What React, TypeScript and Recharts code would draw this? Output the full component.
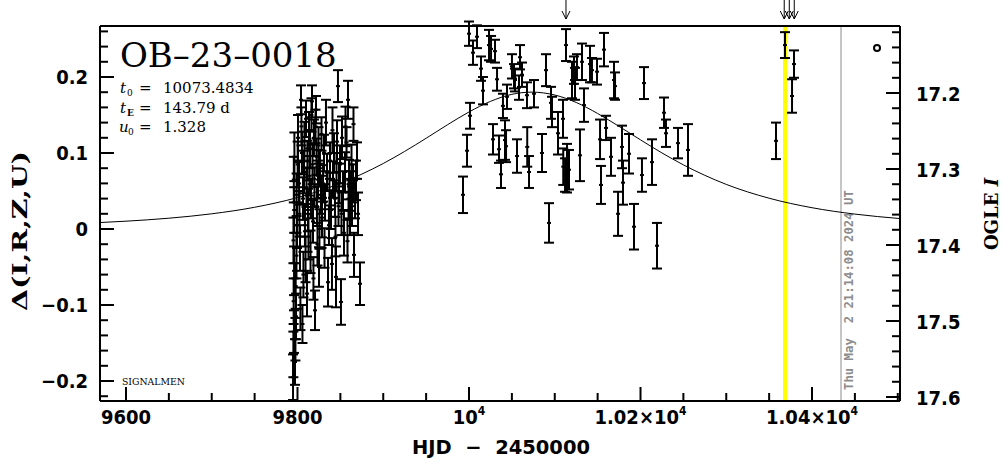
import React from 'react';
import {
  ComposedChart,
  XAxis,
  YAxis,
  Line,
  Scatter,
  ErrorBar,
  ReferenceLine,
  ReferenceDot,
} from 'recharts';

// ---------- observations (HJD-2450000, delta mag, error) ----------
const obsT = [
  9794.8, 9795.2, 9795.9, 9795.5, 9796.0, 9795.3, 9796.2, 9795.7, 9796.4,
  9797.1, 9797.6, 9798.3, 9797.9, 9798.8, 9799.4, 9799.0, 9800.2, 9800.6,
  9801.8, 9802.3, 9802.9, 9803.4, 9804.1, 9804.6, 9805.2, 9805.8, 9806.4, 9806.9,
  9807.6, 9808.1, 9808.7, 9809.4, 9809.9, 9810.5, 9811.1, 9811.6, 9812.2, 9812.8, 9813.4,
  9814.0, 9814.6, 9815.2, 9815.7, 9816.3, 9816.9, 9817.5, 9818.1, 9818.6, 9819.2, 9819.8, 9820.4, 9821.0, 9821.6,
  9822.2, 9822.7, 9823.3, 9823.9, 9824.5, 9825.1, 9825.6, 9826.2, 9827.4, 9828.0,
  9828.6, 9829.8, 9830.9, 9831.5, 9832.1, 9833.2, 9834.4, 9835.6, 9836.7, 9837.3, 9837.9,
  9839.1, 9840.2, 9840.8, 9841.4, 9842.6, 9843.7, 9844.3, 9844.9, 9845.5, 9846.1, 9847.2, 9847.8,
  9848.4, 9849.6, 9850.7, 9851.3, 9851.9, 9853.1, 9854.2, 9855.4, 9856.0,
  9857.2, 9858.3, 9858.9, 9859.5, 9860.1, 9861.2, 9862.4, 9863.0,
  9863.6, 9864.8, 9865.3, 9865.9, 9867.1, 9868.2, 9869.4, 9870.6, 9872.9,
  9993.0, 9997.7, 10000.0, 10001.2, 10004.7, 10009.3, 10014.0, 10016.3, 10023.3, 10025.7,
  10028.0, 10030.3, 10032.7, 10035.0, 10037.3, 10039.6, 10042.0, 10043.2, 10044.3, 10050.1,
  10052.5, 10053.6, 10056.0, 10058.3, 10059.5, 10061.8, 10067.6, 10067.9, 10070.0, 10075.8,
  10085.1, 10089.8, 10093.3, 10095.6, 10096.8, 10103.8, 10109.6, 10109.9, 10112.0, 10113.1,
  10114.3, 10116.6, 10120.1, 10122.4, 10123.6, 10125.9, 10129.4, 10131.8, 10134.1, 10141.1,
  10143.4, 10149.3, 10152.8, 10153.9, 10157.4, 10159.8, 10165.6, 10169.1, 10170.3, 10173.8,
  10178.4, 10179.6, 10186.6, 10192.4, 10201.7, 10204.1, 10213.4, 10219.2, 10227.4, 10229.7,
  10243.7, 10255.4, 10358.0, 10368.5, 10376.7, 10379.0,
];
const obsD = [
  -0.195, -0.165, -0.135, -0.095, -0.055, -0.015, 0.025, 0.065, 0.095,
  -0.175, -0.145, -0.115, -0.075, -0.035, 0.005, 0.045, 0.085, 0.12,
  0.06, 0.02, -0.025, -0.105, 0.17, 0.135, 0.1, -0.125, 0.04, -0.06,
  0.075, 0.115, 0.005, -0.04, 0.145, 0.055, -0.085, 0.09, 0.025, -0.01, 0.13,
  0.07, 0.105, -0.03, 0.04, 0.15, 0.168, 0.085, 0.01, -0.065, 0.12, 0.055, -0.107, 0.135, 0.157,
  0.095, 0.03, -0.02, 0.065, 0.11, -0.05, 0.0, 0.08, 0.045, 0.125,
  0.015, 0.06, 0.1, -0.025, 0.035, 0.14, 0.075, -0.07, 0.005, 0.05, 0.09,
  0.025, -0.046, 0.13, 0.065, 0.1, 0.04, -0.01, -0.063, 0.075, 0.115, 0.188, 0.03,
  0.06, 0.085, -0.096, 0.02, 0.12, 0.05, -0.005, 0.075, 0.135,
  0.114, -0.016, 0.17, 0.04, 0.065, 0.02, 0.05, 0.085,
  0.03, 0.06, 0.138, -0.034, 0.04, 0.064, 0.09, 0.02, -0.072,
  0.045, 0.103, 0.257, 0.149, 0.232, 0.253, 0.211, 0.182, 0.242, 0.237,
  0.118, 0.234, 0.197, 0.105, 0.072, 0.162, 0.117, 0.109, 0.174, 0.214,
  0.201, 0.196, 0.096, 0.186, 0.226, 0.203, 0.176, 0.108, 0.075, 0.178,
  0.1, 0.209, 0.008, 0.166, 0.154, 0.126, 0.145, 0.082, 0.071, 0.242,
  0.08, 0.078, 0.196, 0.209, 0.191, 0.213, 0.097, 0.22, 0.163, 0.217,
  0.209, 0.207, 0.118, 0.058, 0.236, 0.133, 0.095, 0.196, 0.188, 0.02,
  0.108, 0.061, 0.099, 0.003, 0.071, 0.192, 0.088, -0.022, 0.153, 0.126,
  0.113, 0.104, 0.116, 0.242, 0.175, 0.217,
];
const obsE = [
  0.03, 0.03, 0.028, 0.03, 0.032, 0.03, 0.03, 0.03, 0.032,
  0.03, 0.028, 0.03, 0.03, 0.03, 0.03, 0.028, 0.03, 0.03,
  0.028, 0.03, 0.03, 0.028, 0.019, 0.025, 0.028, 0.025, 0.028, 0.03,
  0.028, 0.026, 0.028, 0.03, 0.024, 0.026, 0.03, 0.026, 0.028, 0.03, 0.024,
  0.026, 0.025, 0.028, 0.026, 0.022, 0.021, 0.026, 0.028, 0.028, 0.024, 0.026, 0.026, 0.022, 0.018,
  0.024, 0.026, 0.028, 0.025, 0.024, 0.026, 0.026, 0.024, 0.025, 0.022,
  0.026, 0.024, 0.024, 0.026, 0.024, 0.03, 0.024, 0.032, 0.026, 0.024, 0.024,
  0.025, 0.034, 0.03, 0.024, 0.026, 0.024, 0.026, 0.04, 0.025, 0.028, 0.021, 0.026,
  0.026, 0.025, 0.03, 0.028, 0.028, 0.026, 0.03, 0.026, 0.026,
  0.02, 0.028, 0.025, 0.026, 0.026, 0.028, 0.026, 0.026,
  0.026, 0.025, 0.022, 0.029, 0.026, 0.026, 0.024, 0.028, 0.028,
  0.024, 0.021, 0.016, 0.017, 0.016, 0.015, 0.016, 0.018, 0.02, 0.017,
  0.02, 0.015, 0.015, 0.018, 0.018, 0.016, 0.026, 0.021, 0.016, 0.016,
  0.016, 0.015, 0.022, 0.016, 0.016, 0.016, 0.017, 0.026, 0.021, 0.018,
  0.025, 0.021, 0.026, 0.021, 0.02, 0.028, 0.025, 0.024, 0.022, 0.021,
  0.032, 0.026, 0.024, 0.018, 0.021, 0.017, 0.034, 0.024, 0.022, 0.024,
  0.016, 0.017, 0.026, 0.025, 0.022, 0.016, 0.025, 0.024, 0.018, 0.029,
  0.028, 0.029, 0.026, 0.03, 0.022, 0.021, 0.03, 0.03, 0.02, 0.018,
  0.02, 0.034, 0.024, 0.017, 0.022, 0.018,
];

// ---------- model curve ----------
const modelT = [
  9566, 9600, 9650, 9700, 9750, 9800, 9850, 9900, 9925, 9950, 9975, 10000, 10025, 10050,
  10073.5, 10100, 10125, 10150, 10175, 10200, 10225, 10250, 10300, 10350, 10400, 10450, 10503,
];
const modelD = [
  0.0083, 0.0103, 0.0142, 0.02, 0.0286, 0.0414, 0.0601, 0.0862, 0.1021, 0.1194, 0.1372, 0.154,
  0.1679, 0.1772, 0.1801, 0.1763, 0.1665, 0.152, 0.135, 0.1173, 0.1001, 0.0844, 0.0587, 0.0405,
  0.028, 0.0196, 0.0137,
];

// ---------- markers ----------
const nowLineT = 10368.5; // yellow line
const dateLineT = 10433.8; // grey line
const arrowTimes = [10113.1, 10367.6, 10373.5, 10379.3];
const dateText = 'Thu May\u00a0\u00a02 21:14:08 2024 UT';

// ---------- axes ----------
const xDomain = [9569.7, 10502.6];
const dDomain = [-0.2263, 0.2671];
const mDomain = [17.1118, 17.6053];

const xTicks = [
  9600, 9650, 9700, 9750, 9800, 9850, 9900, 9950, 10000, 10050, 10100, 10150, 10200, 10250,
  10300, 10350, 10400, 10450, 10500,
];
const xMajorTicks = [9600, 9800, 10000, 10200, 10400];
const xLabelBase = ['9600', '9800', '10', '1.02\u00d710', '1.04\u00d710'];
const xLabelExp = ['', '', '4', '4', '4'];

const dTicks = [
  -0.22, -0.2, -0.18, -0.16, -0.14, -0.12, -0.1, -0.08, -0.06, -0.04, -0.02, 0, 0.02, 0.04, 0.06,
  0.08, 0.1, 0.12, 0.14, 0.16, 0.18, 0.2, 0.22, 0.24, 0.26,
];
const dMajorTicks = [-0.2, -0.1, 0, 0.1, 0.2];
const dLabels = ['\u22120.2', '\u22120.1', '0', '0.1', '0.2'];

const mTicks = [
  17.12, 17.14, 17.16, 17.18, 17.2, 17.22, 17.24, 17.26, 17.28, 17.3, 17.32, 17.34, 17.36, 17.38,
  17.4, 17.42, 17.44, 17.46, 17.48, 17.5, 17.52, 17.54, 17.56, 17.58, 17.6,
];
const mMajorTicks = [17.2, 17.3, 17.4, 17.5, 17.6];
const mLabels = ['17.2', '17.3', '17.4', '17.5', '17.6'];

const points = obsT.map((t, i) => ({ t, d: obsD[i], e: obsE[i] }));
const model = modelT.map((t, i) => ({ t, d: modelD[i] }));

const MAJOR = 14;
const MINOR = 8;

const labelFont: React.CSSProperties = {
  fontFamily: "'DejaVu Sans Condensed', 'DejaVu Sans', sans-serif",
  fontStretch: 'condensed',
  fontWeight: 700,
  fontSize: 20,
  fill: '#000',
};

const findIdx = (arr: number[], v: number) => arr.findIndex((m) => Math.abs(m - v) < 1e-6);

const BottomTick = (props: any) => {
  const { x, y, payload } = props;
  const idx = findIdx(xMajorTicks, payload.value);
  const major = idx >= 0;
  return (
    <g>
      <line x1={x} x2={x} y1={y} y2={y - (major ? MAJOR : MINOR)} stroke="#000" strokeWidth={2} />
      {major && (
        <text x={x} y={y + 23} textAnchor="middle" style={labelFont}>
          {xLabelBase[idx]}
          {xLabelExp[idx] ? (
            <tspan dy={-9} style={{ fontSize: 12 }}>
              {xLabelExp[idx]}
            </tspan>
          ) : null}
        </text>
      )}
    </g>
  );
};

const TopTick = (props: any) => {
  const { x, y, payload } = props;
  const major = findIdx(xMajorTicks, payload.value) >= 0;
  return <line x1={x} x2={x} y1={y} y2={y + (major ? MAJOR : MINOR)} stroke="#000" strokeWidth={2} />;
};

const LeftTick = (props: any) => {
  const { x, y, payload } = props;
  const idx = findIdx(dMajorTicks, payload.value);
  const major = idx >= 0;
  return (
    <g>
      <line x1={x} x2={x + (major ? MAJOR : MINOR)} y1={y} y2={y} stroke="#000" strokeWidth={2} />
      {major && (
        <text x={x - 12} y={y + 7} textAnchor="end" style={labelFont}>
          {dLabels[idx]}
        </text>
      )}
    </g>
  );
};

const RightTick = (props: any) => {
  const { x, y, payload } = props;
  const idx = findIdx(mMajorTicks, payload.value);
  const major = idx >= 0;
  return (
    <g>
      <line x1={x} x2={x - (major ? MAJOR : MINOR)} y1={y} y2={y} stroke="#000" strokeWidth={2} />
      {major && (
        <text x={x + 16} y={y + 8} textAnchor="start" style={labelFont}>
          {mLabels[idx]}
        </text>
      )}
    </g>
  );
};

const PointShape = (p: any) => <rect x={p.cx - 2} y={p.cy - 1} width={4} height={2} fill="#000" />;

const ArrowShape = (p: any) => {
  const x = p.x1;
  const top = Math.min(p.y1, p.y2);
  const y0 = top - 26;
  const y1 = top - 7;
  return (
    <g>
      <line x1={x} x2={x} y1={y0} y2={y1} stroke="#000" strokeWidth={1} />
      <polyline points={`${x - 4},${y1 - 8} ${x},${y1} ${x + 4},${y1 - 8}`} fill="none" stroke="#000" strokeWidth={1} />
    </g>
  );
};

const DateLineShape = (p: any) => {
  const x = p.x1;
  const top = Math.min(p.y1, p.y2);
  const bot = Math.max(p.y1, p.y2);
  return (
    <g>
      <line x1={x} x2={x} y1={top} y2={bot} stroke="#8c8c8c" strokeWidth={1} />
      <text
        transform={`translate(${x + 12},${bot - 11}) rotate(-90)`}
        style={{
          fontFamily: "'DejaVu Sans Mono', monospace",
          fontWeight: 700,
          fontSize: 12.3,
          fill: '#8c8c8c',
        }}
      >
        {dateText}
      </text>
    </g>
  );
};

export default function App() {
  return (
    <div style={{ position: 'absolute', left: 0, top: 0, width: 1004, height: 459, background: '#fff' }}>
      <ComposedChart width={1004} height={459} margin={{ top: 16, right: 14, bottom: 18, left: 10 }}>
        <XAxis
          xAxisId="b"
          dataKey="t"
          type="number"
          domain={xDomain}
          allowDataOverflow
          ticks={xTicks}
          interval={0}
          height={40}
          tickSize={0}
          tickMargin={0}
          tickLine={false}
          axisLine={{ stroke: '#000', strokeWidth: 2 }}
          tick={<BottomTick />}
        />
        <XAxis
          xAxisId="t"
          orientation="top"
          type="number"
          domain={xDomain}
          allowDataOverflow
          ticks={xTicks}
          interval={0}
          height={10}
          tickSize={0}
          tickMargin={0}
          tickLine={false}
          axisLine={{ stroke: '#000', strokeWidth: 2 }}
          tick={<TopTick />}
        />
        <YAxis
          yAxisId="d"
          dataKey="d"
          type="number"
          domain={dDomain}
          allowDataOverflow
          ticks={dTicks}
          interval={0}
          width={90}
          tickSize={0}
          tickMargin={0}
          tickLine={false}
          axisLine={{ stroke: '#000', strokeWidth: 2 }}
          tick={<LeftTick />}
        />
        <YAxis
          yAxisId="m"
          orientation="right"
          type="number"
          domain={mDomain}
          reversed
          allowDataOverflow
          ticks={mTicks}
          interval={0}
          width={90}
          tickSize={0}
          tickMargin={0}
          tickLine={false}
          axisLine={{ stroke: '#000', strokeWidth: 2 }}
          tick={<RightTick />}
        />
        <ReferenceLine xAxisId="b" yAxisId="d" x={nowLineT} stroke="#ffff00" strokeWidth={4} />
        <ReferenceLine xAxisId="b" yAxisId="d" x={dateLineT} shape={<DateLineShape />} />
        {arrowTimes.map((t) => (
          <ReferenceLine key={t} xAxisId="b" yAxisId="d" x={t} shape={<ArrowShape />} />
        ))}
        <Line
          data={model}
          xAxisId="b"
          yAxisId="d"
          dataKey="d"
          type="monotone"
          stroke="#000"
          strokeWidth={1}
          dot={false}
          activeDot={false}
          isAnimationActive={false}
        />
        <Scatter
          data={points}
          xAxisId="b"
          yAxisId="d"
          dataKey="d"
          shape={<PointShape />}
          isAnimationActive={false}
        >
          <ErrorBar dataKey="e" direction="y" width={5} stroke="#000" strokeWidth={2} isAnimationActive={false} />
        </Scatter>
        <ReferenceDot xAxisId="b" yAxisId="d" x={10475.8} y={0.238} r={3} fill="#fff" stroke="#000" strokeWidth={2} />
      </ComposedChart>
      <svg
        width={1004}
        height={459}
        style={{ position: 'absolute', left: 0, top: 0, pointerEvents: 'none' }}
      >
        <text x={120} y={67} style={{ fontFamily: "'DejaVu Serif', serif", fontSize: 34, fill: '#000' }}>
          OB{'\u2013'}23{'\u2013'}0018
        </text>
        <g style={{ fontFamily: "'DejaVu Serif', serif", fontSize: 15, fill: '#000' }}>
          <text x={120} y={93} fontStyle="italic">t</text>
          <text x={127} y={96} style={{ fontSize: 9 }}>0</text>
          <text x={139} y={93}>=</text>
          <text x={163} y={93}>10073.4834</text>
          <text x={120} y={113} fontStyle="italic">t</text>
          <text x={127} y={116} style={{ fontSize: 9, fontWeight: 700 }}>E</text>
          <text x={139} y={113}>=</text>
          <text x={163} y={113}>143.79 d</text>
          <text x={119} y={132} fontStyle="italic">u</text>
          <text x={128} y={135} style={{ fontSize: 9 }}>0</text>
          <text x={139} y={132}>=</text>
          <text x={163} y={132}>1.328</text>
        </g>
        <text x={122} y={385} style={{ fontFamily: "'DejaVu Serif', serif", fontSize: 9.3, fill: '#000' }}>
          SIGNALMEN
        </text>
        <text
          x={501}
          y={454}
          textAnchor="middle"
          textLength={178}
          lengthAdjust="spacingAndGlyphs"
          style={{ ...labelFont, fontSize: 20 }}
        >
          {'HJD\u00a0\u00a0\u2212\u00a0\u00a02450000'}
        </text>
        <text
          transform="translate(27,231) rotate(-90)"
          textAnchor="middle"
          textLength={160}
          lengthAdjust="spacingAndGlyphs"
          style={{ fontFamily: "'DejaVu Serif', serif", fontWeight: 700, fontSize: 20, fill: '#000' }}
        >
          {'\u0394(I,R,Z,U)'}
        </text>
        <text
          transform="translate(998,214) rotate(-90)"
          textAnchor="middle"
          style={{ fontFamily: "'DejaVu Serif', serif", fontWeight: 700, fontSize: 18, fill: '#000' }}
        >
          OGLE <tspan fontStyle="italic">I</tspan>
        </text>
      </svg>
    </div>
  );
}
